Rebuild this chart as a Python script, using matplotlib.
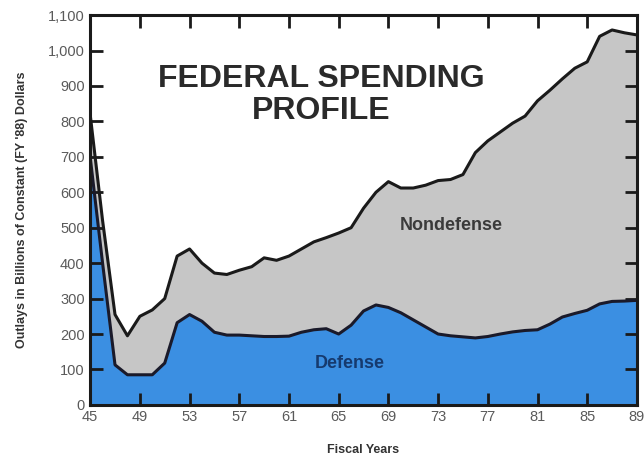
import numpy as np
import matplotlib.pyplot as plt

years = list(range(45, 90))
total = [820, 520, 255, 195, 250, 268, 300, 420, 440, 400,
         372, 368, 380, 390, 415, 408, 420, 440, 460, 472,
         485, 500, 555, 600, 630, 612, 612, 620, 633, 636,
         650, 712, 745, 770, 795, 815, 858, 888, 920, 950,
         968, 1040, 1058, 1050, 1044]
defense = [700, 400, 113, 85, 85, 85, 118, 232, 255, 236,
           205, 197, 197, 195, 193, 193, 194, 205, 212, 215,
           200, 225, 265, 282, 275, 260, 240, 220, 200, 195,
           192, 189, 193, 200, 206, 210, 212, 228, 248, 258,
           267, 285, 292, 293, 295]
xticks = list(range(45, 90, 4))
yticks = list(range(0, 1101, 100))
ylabels = ['0', '100', '200', '300', '400', '500', '600', '700', '800', '900', '1,000', '1,100']

plt.rcParams['font.family'] = ['Liberation Sans', 'DejaVu Sans']

fig = plt.figure(figsize=(6.44, 4.57), dpi=100)
ax = fig.add_axes([0.14, 0.114, 0.849, 0.853])

blue = '#3b8fe2'
grey = '#c6c6c6'
ax.fill_between(years, 0, defense, color=blue, lw=0)
ax.fill_between(years, defense, total, color=grey, lw=0)
ax.plot(years, defense, color='#1a1a2a', lw=2.2)
ax.plot(years, total, color='#1a1a1a', lw=2.2)

ax.set_xlim(45, 89)
ax.set_ylim(0, 1100)
ax.set_xticks(xticks)
ax.set_yticks(yticks)
ax.set_yticklabels(ylabels)
ax.tick_params(direction='in', length=9, width=2, color='#1a1a1a',
               top=True, right=True, labelsize=10.5, labelcolor='#5a5a5a', pad=4)
for s in ax.spines.values():
    s.set_linewidth(2.2)
    s.set_color('#1a1a1a')

ax.set_xlabel('Fiscal Years', fontsize=9, fontweight='bold', color='#333333', labelpad=14)
ax.set_ylabel("Outlays in Billions of Constant (FY '88) Dollars", fontsize=9,
              fontweight='bold', color='#333333', labelpad=14)

ax.text(0.423, 0.795, 'FEDERAL SPENDING\nPROFILE', transform=ax.transAxes,
        ha='center', va='center', fontsize=23, fontweight='bold', color='#2a2a2a',
        linespacing=1.1)
ax.text(0.66, 0.46, 'Nondefense', transform=ax.transAxes, ha='center', va='center',
        fontsize=13, fontweight='bold', color='#3a3a3a')
ax.text(0.475, 0.105, 'Defense', transform=ax.transAxes, ha='center', va='center',
        fontsize=13, fontweight='bold', color='#163a6e')

fig.savefig('out.png', dpi=100)
